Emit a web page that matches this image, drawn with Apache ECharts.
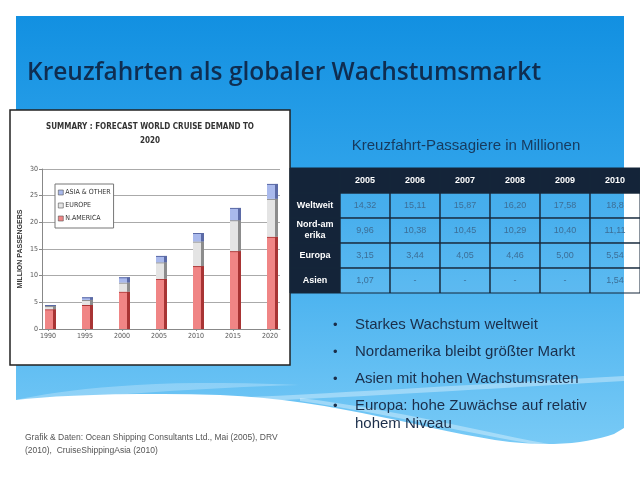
<!DOCTYPE html>
<html><head><meta charset="utf-8">
<script src="https://cdn.jsdelivr.net/npm/echarts@6/dist/echarts.min.js"></script>
<style>html,body{margin:0;padding:0;background:#fff}#c{width:640px;height:480px}</style>
</head><body><div id="c"></div>
<script>
// ---- chart data ----
const years = [1990, 1995, 2000, 2005, 2010, 2015, 2020];
const northAmerica = [3.7, 4.5, 7.0, 9.4, 11.8, 14.6, 17.3];
const europe = [0.6, 0.95, 1.7, 3.1, 4.6, 5.8, 7.1];
const asiaOther = [0.2, 0.5, 1.0, 1.2, 1.6, 2.3, 2.8];
const seriesNames = ['N.AMERICA', 'EUROPE', 'ASIA & OTHER'];
const legendOrder = ['ASIA & OTHER', 'EUROPE', 'N.AMERICA'];
// ---- table data ----
const tableYears = ['2005', '2006', '2007', '2008', '2009', '2010'];
const tableRows = ['Weltweit', 'Nord-am\nerika', 'Europa', 'Asien'];
const weltweit = ['14,32', '15,11', '15,87', '16,20', '17,58', '18,8'];
const nordamerika = ['9,96', '10,38', '10,45', '10,29', '10,40', '11,11'];
const europa = ['3,15', '3,44', '4,05', '4,46', '5,00', '5,54'];
const asien = ['1,07', '-', '-', '-', '-', '1,54'];

const tableCells = [];
tableCells.push({c: 0, r: 0, t: '', h: true});
tableYears.forEach((y, i) => tableCells.push({c: i + 1, r: 0, t: y, h: true}));
const bodyRows = [weltweit, nordamerika, europa, asien];
tableRows.forEach((name, ri) => {
  tableCells.push({c: 0, r: ri + 1, t: name, h: true});
  bodyRows[ri].forEach((v, ci) => tableCells.push({c: ci + 1, r: ri + 1, t: v, h: false}));
});

const narrow = '"Liberation Sans Narrow", "DejaVu Sans Condensed", "Liberation Sans", Arial, sans-serif';
const sans = '"Liberation Sans", Arial, sans-serif';

// decorative outline helper (cubic bezier sampling for slide background shape)
function bez(p0, p1, p2, p3, n) {
  const out = [];
  for (let i = 1; i <= n; i++) {
    const t = i / n, u = 1 - t;
    out.push([u*u*u*p0[0] + 3*u*u*t*p1[0] + 3*u*t*t*p2[0] + t*t*t*p3[0],
              u*u*u*p0[1] + 3*u*u*t*p1[1] + 3*u*t*t*p2[1] + t*t*t*p3[1]]);
  }
  return out;
}
const slidePts = [[16, 16], [624, 16], [624, 428], [614, 434]]
  .concat(bez([614, 434], [590, 442], [560, 447], [510, 442], 12))
  .concat(bez([510, 442], [430, 432], [340, 400], [220, 395], 16))
  .concat(bez([220, 395], [120, 392], [50, 396], [16, 400], 10));
const streak1 = [[230, 398]].concat(bez([230, 398], [360, 392], [480, 384], [624, 376], 16))
  .concat([[624, 381]]).concat(bez([624, 381], [480, 389], [360, 397], [260, 401], 16));
const streak2 = [[300, 398]].concat(bez([300, 398], [400, 410], [480, 432], [560, 446], 16))
  .concat([[540, 445]]).concat(bez([540, 445], [470, 434], [390, 414], [300, 401], 16));
const streak3 = [[16, 400]].concat(bez([16, 400], [60, 390], [150, 378], [300, 385], 16))
  .concat(bez([300, 385], [200, 388], [100, 395], [16, 404], 16));

const chart = echarts.init(document.getElementById('c'), null, {renderer: 'canvas'});

const barStyles = [
  {color: '#f08585', side: '#a83434'},
  {color: '#e4e4e4', side: '#8c8c8c'},
  {color: '#a9b9ec', side: '#5b6aa6'}
];
const barData = [northAmerica, europe, asiaOther];
// cumulative bases for stacking
const stacked = barData.map((arr, k) => years.map((y, i) => {
  let base = 0;
  for (let j = 0; j < k; j++) base += barData[j][i];
  return [y, base + arr[i], base];
}));

const bullets = [
  'Starkes Wachstum weltweit',
  'Nordamerika bleibt größter Markt',
  'Asien mit hohen Wachstumsraten',
  'Europa: hohe Zuwächse auf relativ'
];

const graphics = [
  {type: 'polygon', z: -10, shape: {points: slidePts},
   style: {fill: {type: 'linear', x: 0, y: 0, x2: 0, y2: 1, colorStops: [
     {offset: 0, color: '#1290e1'}, {offset: 0.45, color: '#35a7ec'}, {offset: 1, color: '#78caf6'}]}}},
  {type: 'polygon', z: -9, shape: {points: streak1}, style: {fill: 'rgba(255,255,255,0.35)'}},
  {type: 'polygon', z: -9, shape: {points: streak2}, style: {fill: 'rgba(255,255,255,0.35)'}},
  {type: 'polygon', z: -9, shape: {points: streak3}, style: {fill: 'rgba(255,255,255,0.25)'}},
  // chart image box
  {type: 'rect', z: -5, shape: {x: 10, y: 110, width: 280, height: 255},
   style: {fill: '#ffffff', stroke: '#222', lineWidth: 1.5}},
  {type: 'text', z: 10, style: {text: 'SUMMARY : FORECAST WORLD CRUISE DEMAND TO', x: 150, y: 127,
    align: 'center', verticalAlign: 'middle', font: 'bold 8px ' + narrow, fill: '#333'}},
  {type: 'text', z: 10, style: {text: '2020', x: 150, y: 141,
    align: 'center', verticalAlign: 'middle', font: 'bold 8px ' + narrow, fill: '#333'}},
  // slide title
  {type: 'text', z: 10, style: {text: 'Kreuzfahrten als globaler Wachstumsmarkt', x: 27, y: 73,
    verticalAlign: 'middle', font: '600 24.5px "Open Sans", "Noto Sans", sans-serif', fill: '#0f2d50'}},
  // table title
  {type: 'text', z: 10, style: {text: 'Kreuzfahrt-Passagiere in Millionen', x: 466, y: 146,
    align: 'center', verticalAlign: 'middle', font: '15px ' + sans, fill: '#173a5e'}},
  // footer
  {type: 'text', z: 10, style: {text: 'Grafik & Daten: Ocean Shipping Consultants Ltd., Mai (2005), DRV', x: 25, y: 438,
    verticalAlign: 'middle', font: '8.5px ' + sans, fill: '#555'}},
  {type: 'text', z: 10, style: {text: '(2010),  CruiseShippingAsia (2010)', x: 25, y: 451,
    verticalAlign: 'middle', font: '8.5px ' + sans, fill: '#555'}},
  {type: 'text', z: 10, style: {text: 'hohem Niveau', x: 355, y: 424,
    verticalAlign: 'middle', font: '15px ' + sans, fill: '#1b2e4a'}}
];
bullets.forEach((b, i) => {
  const y = 325 + i * 27;
  graphics.push({type: 'text', z: 10, style: {text: '•', x: 333, y: y, verticalAlign: 'middle', font: '13px ' + sans, fill: '#1b2e4a'}});
  graphics.push({type: 'text', z: 10, style: {text: b, x: 355, y: y, verticalAlign: 'middle', font: '15px ' + sans, fill: '#1b2e4a'}});
});

function makeBarRender(k) {
  return function (params, api) {
    const top = api.coord([api.value(0), api.value(1)]);
    const bot = api.coord([api.value(0), api.value(2)]);
    const cx = top[0];
    const h = bot[1] - top[1];
    return {type: 'group', children: [
      {type: 'rect', shape: {x: cx + 5, y: top[1], width: 3, height: h}, style: {fill: barStyles[k].side}},
      {type: 'rect', shape: {x: cx - 3, y: top[1], width: 8, height: h}, style: {fill: barStyles[k].color}},
      {type: 'line', shape: {x1: cx - 3, y1: top[1] + 0.5, x2: cx + 8, y2: top[1] + 0.5}, style: {stroke: barStyles[k].side, lineWidth: 1}}
    ]};
  };
}

const option = {
  animation: false,
  graphic: {elements: graphics},
  grid: [
    {left: 42, top: 169, width: 238, height: 160},
    {left: 290, top: 168, width: 350, height: 125}
  ],
  legend: {
    orient: 'vertical', left: 55, top: 184, icon: 'rect',
    itemWidth: 5, itemHeight: 5, itemGap: 6,
    padding: [5, 3, 6, 3],
    backgroundColor: '#fff', borderColor: '#777', borderWidth: 1, borderRadius: 0,
    itemStyle: {borderColor: '#555', borderWidth: 0.6},
    textStyle: {fontSize: 7, fontFamily: narrow, color: '#333', padding: [0, 0, 0, -3]},
    data: legendOrder
  },
  xAxis: [
    {gridIndex: 0, type: 'value', min: 1989.19, max: 2021.35,
     axisLine: {show: true, lineStyle: {color: '#888'}},
     axisTick: {show: true, customValues: years, length: 2, lineStyle: {color: '#888'}},
     axisLabel: {customValues: years, formatter: v => String(v), fontSize: 7, fontFamily: narrow, color: '#555', margin: 4},
     splitLine: {show: false}},
    {gridIndex: 1, type: 'category', data: [0, 1, 2, 3, 4, 5, 6], show: false}
  ],
  yAxis: [
    {gridIndex: 0, type: 'value', min: 0, max: 30, interval: 5,
     name: 'MILLION PASSENGERS', nameLocation: 'middle', nameGap: 18,
     nameTextStyle: {fontSize: 7, fontWeight: 'bold', fontFamily: sans, color: '#333'},
     axisLine: {show: true, lineStyle: {color: '#888'}},
     axisTick: {show: true, length: 3, lineStyle: {color: '#888'}},
     axisLabel: {fontSize: 7, fontFamily: narrow, color: '#555', margin: 4},
     splitLine: {show: true, lineStyle: {color: '#aaa', width: 1}}},
    {gridIndex: 1, type: 'category', data: [0, 1, 2, 3, 4], inverse: true, show: false}
  ],
  series: stacked.map((d, k) => ({
    name: seriesNames[k], type: 'custom', xAxisIndex: 0, yAxisIndex: 0,
    data: d, encode: {x: 0, y: [1, 2]},
    itemStyle: {color: barStyles[k].color},
    renderItem: makeBarRender(k)
  })).concat([{
    type: 'custom', xAxisIndex: 1, yAxisIndex: 1,
    data: tableCells.map(d => [d.c, d.r]),
    encode: {x: 0, y: 1},
    renderItem: function (params, api) {
      const d = tableCells[params.dataIndex];
      const p = api.coord([api.value(0), api.value(1)]);
      const s = api.size([1, 1]);
      const x = p[0] - s[0] / 2, y = p[1] - s[1] / 2;
      return {type: 'group', children: [
        {type: 'rect', shape: {x: x, y: y, width: s[0], height: s[1]},
         style: {fill: d.h ? '#142439' : 'rgba(255,255,255,0.09)', stroke: '#15263b', lineWidth: 1}},
        {type: 'text', style: {text: d.t, x: p[0], y: p[1], align: 'center', verticalAlign: 'middle',
          font: (d.h ? 'bold ' : '') + '9px ' + sans, lineHeight: 11, fill: d.h ? '#ffffff' : '#3d6e96'}}
      ]};
    }
  }])
};
chart.setOption(option);
</script>
</body></html>
